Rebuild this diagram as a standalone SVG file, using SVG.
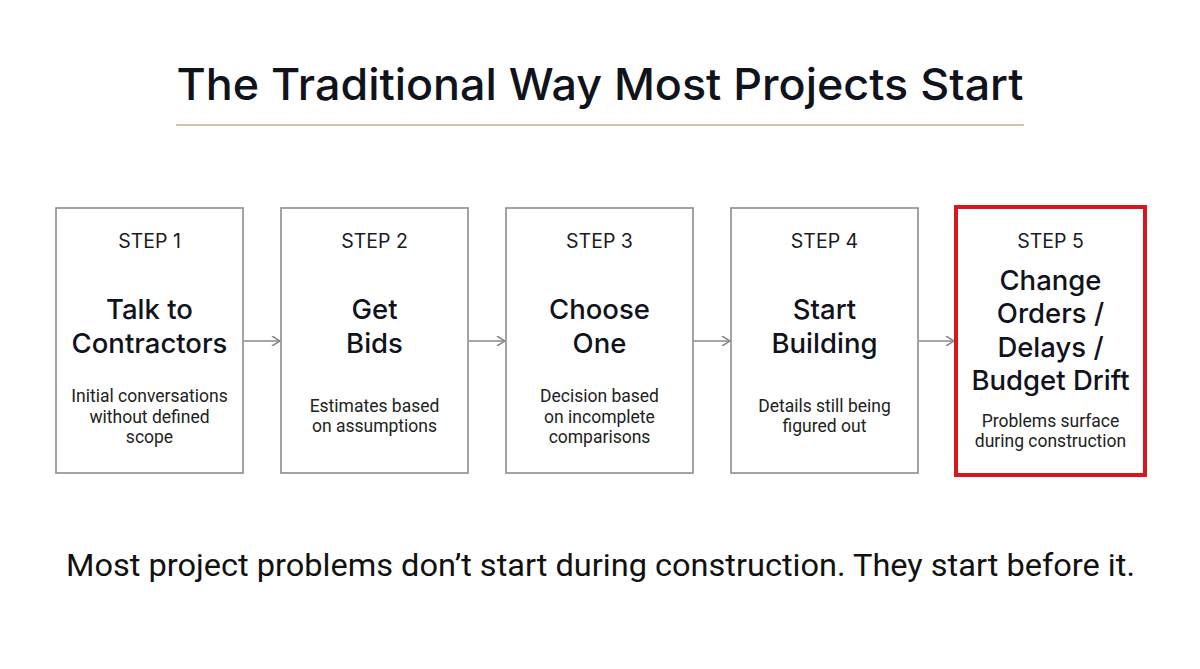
<svg xmlns="http://www.w3.org/2000/svg" width="1200" height="669" viewBox="0 0 1200 669">
<style>
.box{fill:#fff;stroke:#8c8c8c;stroke-width:1.6}
.hot{fill:#fff;stroke:#d7161d;stroke-width:4}
.step{font-family:Inter,"Noto Sans",sans-serif;font-size:19.5px;fill:#1a1a1f;text-anchor:middle}
.head{font-family:Inter,"Noto Sans",sans-serif;font-size:27.5px;font-weight:500;fill:#10131c;text-anchor:middle}
.desc{font-family:Roboto,"Liberation Sans",sans-serif;font-size:17.5px;fill:#222;text-anchor:middle}
.conn{stroke:#8a8a8a;stroke-width:1.6;fill:none}
</style>
<defs>
<marker id="ah" viewBox="0 0 10 10" refX="9" refY="5" markerWidth="10" markerHeight="10" markerUnits="userSpaceOnUse" orient="auto">
<path d="M1,0 L9,5 L1,10" fill="none" stroke="#8a8a8a" stroke-width="1.6"/>
</marker>
</defs>
<rect width="1200" height="669" fill="#fff"/>
<text x="600" y="100" font-family="Inter,'Noto Sans',sans-serif" font-size="44" font-weight="500" fill="#10131c" text-anchor="middle" textLength="847" lengthAdjust="spacingAndGlyphs">The Traditional Way Most Projects Start</text>
<line x1="176" y1="125" x2="1024" y2="125" stroke="#cfc6a8" stroke-width="2"/>

<g id="connectors">
<line class="conn" x1="244" y1="341" x2="280" y2="341" marker-end="url(#ah)"/>
<line class="conn" x1="469" y1="341" x2="505" y2="341" marker-end="url(#ah)"/>
<line class="conn" x1="694" y1="341" x2="730" y2="341" marker-end="url(#ah)"/>
<line class="conn" x1="919" y1="341" x2="954" y2="341" marker-end="url(#ah)"/>
</g>

<g id="step1">
<rect class="box" x="56" y="208" width="187" height="265"/>
<text class="step" x="149.5" y="248">STEP 1</text>
<text class="head" x="149.5" y="319">Talk to</text>
<text class="head" x="149.5" y="353">Contractors</text>
<text class="desc" x="149.5" y="402">Initial conversations</text>
<text class="desc" x="149.5" y="423">without defined</text>
<text class="desc" x="149.5" y="443">scope</text>
</g>

<g id="step2">
<rect class="box" x="281" y="208" width="187" height="265"/>
<text class="step" x="374.5" y="248">STEP 2</text>
<text class="head" x="374.5" y="319">Get</text>
<text class="head" x="374.5" y="353">Bids</text>
<text class="desc" x="374.5" y="412">Estimates based</text>
<text class="desc" x="374.5" y="432">on assumptions</text>
</g>

<g id="step3">
<rect class="box" x="506" y="208" width="187" height="265"/>
<text class="step" x="599.5" y="248">STEP 3</text>
<text class="head" x="599.5" y="319">Choose</text>
<text class="head" x="599.5" y="353">One</text>
<text class="desc" x="599.5" y="402">Decision based</text>
<text class="desc" x="599.5" y="423">on incomplete</text>
<text class="desc" x="599.5" y="443">comparisons</text>
</g>

<g id="step4">
<rect class="box" x="731" y="208" width="187" height="265"/>
<text class="step" x="824.5" y="248">STEP 4</text>
<text class="head" x="824.5" y="319">Start</text>
<text class="head" x="824.5" y="353">Building</text>
<text class="desc" x="824.5" y="412">Details still being</text>
<text class="desc" x="824.5" y="432">figured out</text>
</g>

<g id="step5">
<rect class="hot" x="956" y="207" width="189" height="268"/>
<text class="step" x="1050.5" y="248">STEP 5</text>
<text class="head" x="1050.5" y="290">Change</text>
<text class="head" x="1050.5" y="323">Orders /</text>
<text class="head" x="1050.5" y="357">Delays /</text>
<text class="head" x="1050.5" y="390">Budget Drift</text>
<text class="desc" x="1050.5" y="427">Problems surface</text>
<text class="desc" x="1050.5" y="447">during construction</text>
</g>

<text x="66" y="576" font-family="Roboto,'Liberation Sans',sans-serif" font-size="32" fill="#111" textLength="1069" lengthAdjust="spacingAndGlyphs">Most project problems don’t start during construction. They start before it.</text>
</svg>
